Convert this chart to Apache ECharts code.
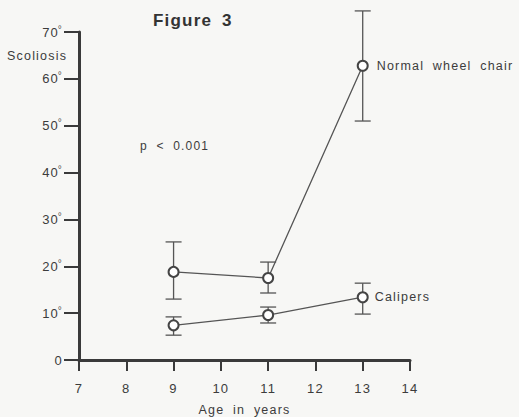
<!DOCTYPE html>
<html>
<head>
<meta charset="utf-8">
<script src="https://cdn.jsdelivr.net/npm/echarts@6/dist/echarts.min.js"></script>
<style>
html,body{margin:0;padding:0;background:#f7f7f5;overflow:hidden;width:519px;height:417px;}
#c{width:519px;height:417px;overflow:hidden;}
#c text{letter-spacing:1.2px;word-spacing:4px;}
</style>
</head>
<body>
<div id="c"></div>
<script>
var ages = [9, 11, 13];
var wheelchairMean = [18.8, 17.5, 62.8];
var wheelchairLow = [13.0, 14.3, 51.0];
var wheelchairHigh = [25.2, 20.9, 74.5];
var calipersMean = [7.4, 9.6, 13.4];
var calipersLow = [5.3, 7.9, 9.8];
var calipersHigh = [9.2, 11.3, 16.4];
var xTicks = [7, 8, 9, 10, 11, 12, 13, 14];
var yTicks = [0, 10, 20, 30, 40, 50, 60, 70];
var seriesNames = ['Normal wheel chair', 'Calipers'];

var ink = '#3a3a3a';
var txt = '#3c3c3c';
var font = '"Liberation Sans", Arial, sans-serif';

function pairs(xs, ys){ return xs.map(function(x,i){ return [x, ys[i]]; }); }
function bars(xs, lo, hi){ return xs.map(function(x,i){ return [x, lo[i], hi[i]]; }); }

function renderErr(params, api){
  var x = api.value(0);
  var p1 = api.coord([x, api.value(1)]);
  var p2 = api.coord([x, api.value(2)]);
  var w = 8;
  var st = {stroke: '#555', lineWidth: 1.3};
  return {type:'group', children:[
    {type:'line', shape:{x1:p1[0], y1:p1[1], x2:p2[0], y2:p2[1]}, style:st},
    {type:'line', shape:{x1:p1[0]-w, y1:p1[1], x2:p1[0]+w, y2:p1[1]}, style:st},
    {type:'line', shape:{x1:p2[0]-w, y1:p2[1], x2:p2[0]+w, y2:p2[1]}, style:st}
  ]};
}

function lastLabel(name){
  return function(p){ return p.dataIndex === ages.length - 1 ? name : ''; };
}

var chart = echarts.init(document.getElementById('c'), null, {renderer: 'svg', width: 519, height: 417});
chart.setOption({
  backgroundColor: '#f7f7f5',
  animation: false,
  grid: {left: 79, right: 109, top: 32, bottom: 57, containLabel: false, outerBoundsMode: 'none'},
  graphic: [
    {type:'text', left: 153, top: 12, style:{text:'Figure 3', font:'bold 17px ' + font, fill:'#333'}},
    {type:'text', left: 7, top: 49, style:{text:'Scoliosis', font:'12.5px ' + font, fill:txt}},
    {type:'text', left: 140, top: 140, style:{text:'p < 0.001', font:'12px ' + font, fill:txt}}
  ],
  xAxis: {
    type: 'value', min: 7, max: 14, interval: 1,
    name: 'Age in years', nameLocation: 'middle', nameGap: 43,
    nameTextStyle: {color: txt, fontSize: 12.5, fontFamily: font},
    axisLine: {show: true, onZero: false, lineStyle: {color: ink, width: 3}},
    axisTick: {show: true, length: 11, lineStyle: {color: ink, width: 2}},
    axisLabel: {color: txt, fontSize: 13, fontFamily: font, margin: 22,
      formatter: function(v){ return xTicks.indexOf(v) >= 0 ? String(v) : ''; }},
    splitLine: {show: false}
  },
  yAxis: {
    type: 'value', min: 0, max: 70, interval: 10,
    axisLine: {show: true, onZero: false, lineStyle: {color: ink, width: 3}},
    axisTick: {show: true, length: 15, lineStyle: {color: ink, width: 2}},
    axisLabel: {color: txt, fontSize: 13, fontFamily: font, margin: 16,
      formatter: function(v){ if (yTicks.indexOf(v) < 0) return ''; return v === 0 ? '0' : v + '{d|°}'; },
      rich: {d: {fontSize: 10, verticalAlign: 'top', padding: [0,0,6,0], color: '#555'}}},
    splitLine: {show: false}
  },
  series: [
    {type:'custom', renderItem: renderErr, data: bars(ages, wheelchairLow, wheelchairHigh), z: 2, silent: true},
    {type:'custom', renderItem: renderErr, data: bars(ages, calipersLow, calipersHigh), z: 2, silent: true},
    {type:'line', name: seriesNames[0], data: pairs(ages, wheelchairMean),
      symbol: 'emptyCircle', symbolSize: 10, z: 3,
      lineStyle: {color: '#555', width: 1.3},
      itemStyle: {color: '#444', borderWidth: 1.6},
      label: {show: true, position: 'right', distance: 8, color: txt, fontSize: 12.5, fontFamily: font, formatter: lastLabel(seriesNames[0])}},
    {type:'line', name: seriesNames[1], data: pairs(ages, calipersMean),
      symbol: 'emptyCircle', symbolSize: 10, z: 3,
      lineStyle: {color: '#555', width: 1.3},
      itemStyle: {color: '#444', borderWidth: 1.6},
      label: {show: true, position: 'right', distance: 6, color: txt, fontSize: 12.5, fontFamily: font, formatter: lastLabel(seriesNames[1])}}
  ]
});
</script>
</body>
</html>
